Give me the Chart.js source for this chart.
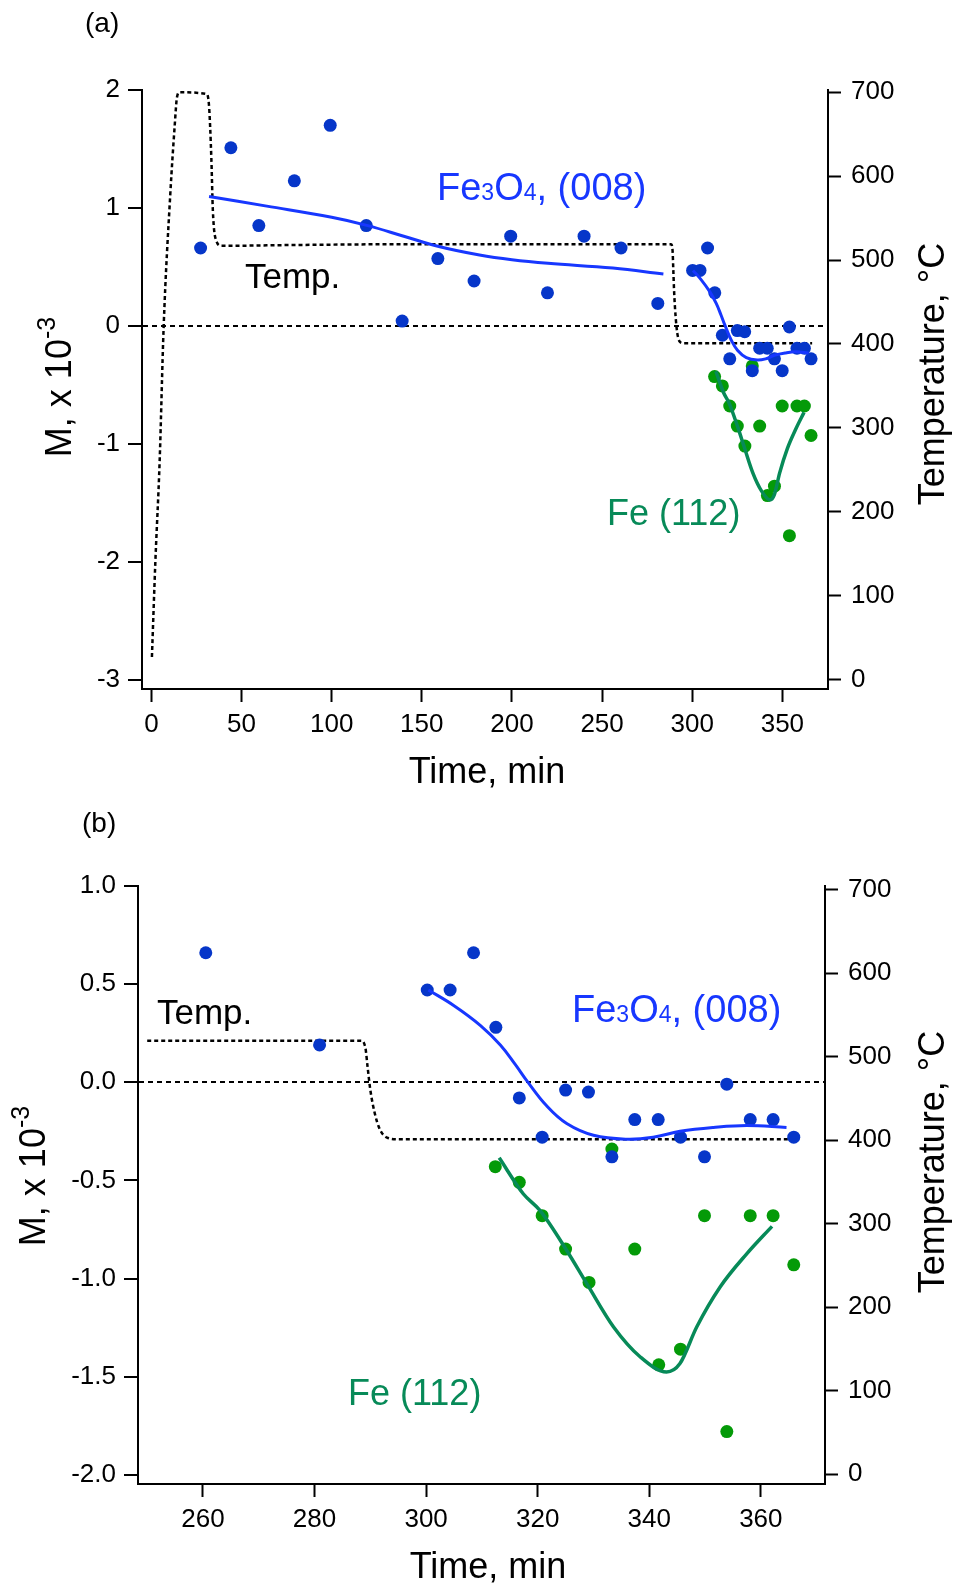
<!DOCTYPE html>
<html>
<head>
<meta charset="utf-8">
<script src="https://cdn.jsdelivr.net/npm/chart.js@4.4.0/dist/chart.umd.min.js"></script>
<style>
  body { margin: 0; background: #fff; }
  canvas { position: absolute; left: 0; }
  #chartA { top: 0; }
  #chartB { top: 790px; }
</style>
</head>
<body>
<canvas id="chartA" width="961" height="790"></canvas>
<canvas id="chartB" width="961" height="805"></canvas>
<script>
// time in min, M in units of 10^-3, temperature in degC
const blueTime = [27.3, 44.1, 59.6, 79.3, 99.2, 119.2, 139.1, 158.9, 179.0, 199.3, 219.7, 240.0,
  260.5, 280.9, 300.2, 304.3, 308.5, 312.5, 316.7, 320.8, 325.0, 329.1, 333.3, 337.4, 341.6,
  345.6, 349.9, 353.9, 358.1, 362.2, 365.9];
const blueM = [0.66, 1.51, 0.85, 1.23, 1.70, 0.85, 0.04, 0.57, 0.38, 0.76, 0.28, 0.76,
  0.66, 0.19, 0.47, 0.47, 0.66, 0.28, -0.08, -0.28, -0.04, -0.05, -0.38, -0.19, -0.19,
  -0.28, -0.38, -0.01, -0.19, -0.19, -0.28];

const greenTime = [312.4, 316.7, 320.8, 325.0, 329.2, 333.3, 337.4, 341.7, 345.6, 349.9, 353.9, 358.1, 362.2, 365.9];
const greenM = [-0.43, -0.51, -0.68, -0.85, -1.02, -0.34, -0.85, -1.44, -1.36, -0.68, -1.78, -0.68, -0.68, -0.93];

// fitted curves
const fitBlueTime1 = [32, 64, 100, 120, 140, 160, 182, 200, 220, 256, 284];
const fitBlueM1 = [1.097, 1.015, 0.92, 0.85, 0.76, 0.67, 0.60, 0.56, 0.53, 0.49, 0.44];
const fitBlueTime2 = [300.4, 305, 309.7, 313.3, 316, 318, 321.6, 325.2, 330, 336, 340.7, 345.5, 351.5, 357.5, 364.6];
const fitBlueM2 = [0.47, 0.39, 0.29, 0.19, 0.09, 0.01, -0.12, -0.21, -0.27, -0.29, -0.28, -0.25, -0.23, -0.22, -0.23];
const fitGreenTime = [313.1, 317.4, 320.4, 325.2, 328.8, 333.6, 338.4, 343.1, 345.5, 348.5, 352.7, 357.5, 362];
const fitGreenM = [-0.385, -0.568, -0.653, -0.857, -1.026, -1.247, -1.40, -1.476, -1.433, -1.247, -1.043, -0.873, -0.734];

const tempTime = [0.3, 2.2, 4.6, 6.8, 10.5, 12.9, 14.2, 15.7, 30.5, 31.9, 33.3, 34.1, 36.0, 38.8,
  80, 150, 250, 288.3, 289.1, 289.5, 290.0, 290.8, 291.7, 293.0, 295.0, 330, 366.5];
const tempC = [27, 140, 261, 420, 579, 659, 694, 700, 698, 686, 619, 559, 523, 517,
  518, 519, 519, 519, 511, 488, 460, 432, 413, 403, 401, 401, 401];

const xTicksA = [0, 50, 100, 150, 200, 250, 300, 350];
const yTicksA = [-3, -2, -1, 0, 1, 2];
const xTicksB = [260, 280, 300, 320, 340, 360];
const yTicksB = [-2.0, -1.5, -1.0, -0.5, 0.0, 0.5, 1.0];
const tempTicks = [0, 100, 200, 300, 400, 500, 600, 700];

const fontFam = '"Liberation Sans", Arial, Helvetica, sans-serif';
const dotBlue = '#0636c9';
const lineBlue = '#1737ff';
const dotGreen = '#049a08';
const lineGreen = '#078a58';

function pts(xs, ys, from) {
  let out = [];
  for (let i = 0; i < xs.length; i++) {
    if (from === undefined || xs[i] >= from) out.push({x: xs[i], y: ys[i]});
  }
  return out;
}

function drawRich(ctx, x, y, parts, color, center) {
  let w = 0;
  parts.forEach(p => {
    ctx.font = p.size + 'px ' + fontFam;
    w += ctx.measureText(p.t).width;
  });
  let cx = center ? x - w / 2 : x;
  ctx.fillStyle = color;
  ctx.textBaseline = 'alphabetic';
  ctx.textAlign = 'left';
  parts.forEach(p => {
    ctx.font = p.size + 'px ' + fontFam;
    ctx.fillText(p.t, cx, y - (p.rise || 0));
    cx += ctx.measureText(p.t).width;
  });
}

function notesPlugin(notes) {
  return {
    id: 'notes',
    afterDraw(chart) {
      const ctx = chart.ctx;
      notes.forEach(n => {
        ctx.save();
        if (n.rot) {
          ctx.translate(n.x, n.y);
          ctx.rotate(-Math.PI / 2);
          drawRich(ctx, 0, 0, n.parts, n.color, true);
        } else {
          drawRich(ctx, n.x, n.y, n.parts, n.color, n.center);
        }
        ctx.restore();
      });
    }
  };
}

function axis(tickLen, pad) {
  return {
    border: { display: true, color: '#000', width: 2 },
    grid: { drawOnChartArea: false, drawTicks: true, tickLength: tickLen, tickColor: '#000', tickWidth: 2 },
    ticks: { color: '#000', padding: pad, font: { size: 26, family: fontFam }, maxRotation: 0, autoSkip: false }
  };
}

function makeChart(id, p) {
  let datasets = [
    { data: pts(fitBlueTime2, fitBlueM2), showLine: true, borderColor: lineBlue, borderWidth: 3,
      pointRadius: 0, tension: 0.4, yAxisID: 'y' },
    { data: pts(fitGreenTime, fitGreenM), showLine: true, borderColor: lineGreen, borderWidth: 3.5,
      pointRadius: 0, cubicInterpolationMode: 'monotone', yAxisID: 'y' },
    { data: pts(blueTime, blueM), pointRadius: 6.5, pointBackgroundColor: dotBlue, pointBorderWidth: 0, yAxisID: 'y' },
    { data: pts(greenTime, greenM), pointRadius: 6.5, pointBackgroundColor: dotGreen, pointBorderWidth: 0, yAxisID: 'y' },
    { data: pts(tempTime, tempC, p.tempFrom), showLine: true, borderColor: '#000', borderWidth: 2.5,
      borderDash: [4, 3], pointRadius: 0, cubicInterpolationMode: 'monotone', yAxisID: 'y2' }
  ];
  if (p.firstFit) {
    datasets.unshift({ data: pts(fitBlueTime1, fitBlueM1), showLine: true, borderColor: lineBlue, borderWidth: 3,
      pointRadius: 0, tension: 0.4, yAxisID: 'y' });
  }

  let xs = axis(13, 7);
  xs.min = p.xMin; xs.max = p.xMax;
  xs.afterBuildTicks = s => { s.ticks = p.xTicks.map(v => ({value: v})); };
  xs.afterFit = s => { s.height = p.xHeight; };

  let ys = axis(14, 8);
  ys.position = 'left';
  ys.min = p.yMin; ys.max = p.yMax;
  ys.grid.drawOnChartArea = true;
  ys.grid.lineWidth = 2;
  ys.grid.color = c => (c.tick && c.tick.value === 0) ? '#000' : 'rgba(0,0,0,0)';
  ys.border.dash = [5, 4];
  ys.ticks.callback = p.yFmt;
  ys.afterBuildTicks = s => { s.ticks = p.yTicks.map(v => ({value: v})); };
  ys.afterFit = s => { s.width = p.leftW; };

  let y2 = axis(13, 10);
  y2.position = 'right';
  y2.min = p.tMin; y2.max = p.tMax;
  y2.afterBuildTicks = s => { s.ticks = tempTicks.map(v => ({value: v})); };
  y2.afterFit = s => { s.width = p.rightW; };

  return new Chart(document.getElementById(id), {
    type: 'scatter',
    data: { datasets: datasets },
    options: {
      responsive: false,
      animation: false,
      devicePixelRatio: 1,
      layout: { padding: { top: p.top, left: 0, right: 0, bottom: 0 } },
      plugins: { legend: { display: false }, tooltip: { enabled: false } },
      scales: { x: xs, y: ys, y2: y2 }
    },
    plugins: [notesPlugin(p.notes)]
  });
}

makeChart('chartA', {
  xMin: -5.2, xMax: 375.3, yMin: -3.08, yMax: 2.0, tMin: -11.2, tMax: 702.7,
  xTicks: xTicksA, yTicks: yTicksA, yFmt: v => String(v),
  top: 90, xHeight: 101, leftW: 142, rightW: 133, firstFit: true,
  notes: [
    { x: 85, y: 32, parts: [{t: '(a)', size: 28}], color: '#000' },
    { x: 245, y: 288, parts: [{t: 'Temp.', size: 35}], color: '#000' },
    { x: 437, y: 200, parts: [{t: 'Fe', size: 38}, {t: '3', size: 23}, {t: 'O', size: 38}, {t: '4', size: 23}, {t: ', (008)', size: 38}], color: lineBlue },
    { x: 607, y: 525, parts: [{t: 'Fe (112)', size: 36}], color: lineGreen },
    { x: 487, y: 783, parts: [{t: 'Time, min', size: 36}], color: '#000', center: true },
    { x: 71, y: 387, rot: true, parts: [{t: 'M, x 10', size: 36}, {t: '-3', size: 25, rise: 16}], color: '#000' },
    { x: 944, y: 374, rot: true, parts: [{t: 'Temperature, °C', size: 36}], color: '#000' }
  ]
});

makeChart('chartB', {
  xMin: 248.35, xMax: 371.5, yMin: -2.047, yMax: 1.0, tMin: -11.6, tMax: 704.3,
  xTicks: xTicksB, yTicks: yTicksB, yFmt: v => v.toFixed(1),
  top: 96, xHeight: 111, leftW: 138, rightW: 136, firstFit: false, tempFrom: 250,
  notes: [
    { x: 82, y: 42, parts: [{t: '(b)', size: 28}], color: '#000' },
    { x: 157, y: 234, parts: [{t: 'Temp.', size: 35}], color: '#000' },
    { x: 572, y: 232, parts: [{t: 'Fe', size: 38}, {t: '3', size: 23}, {t: 'O', size: 38}, {t: '4', size: 23}, {t: ', (008)', size: 38}], color: lineBlue },
    { x: 348, y: 615, parts: [{t: 'Fe (112)', size: 36}], color: lineGreen },
    { x: 488, y: 788, parts: [{t: 'Time, min', size: 36}], color: '#000', center: true },
    { x: 45, y: 386, rot: true, parts: [{t: 'M, x 10', size: 36}, {t: '-3', size: 25, rise: 16}], color: '#000' },
    { x: 944, y: 372, rot: true, parts: [{t: 'Temperature, °C', size: 36}], color: '#000' }
  ]
});
</script>
</body>
</html>
